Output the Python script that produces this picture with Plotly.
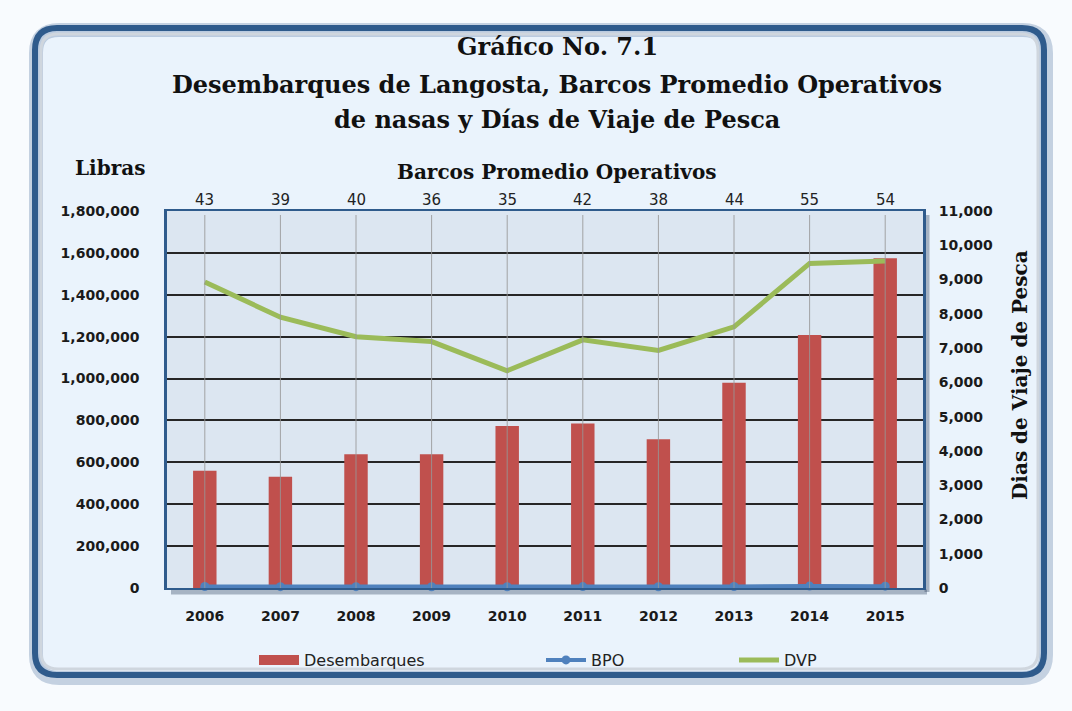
import plotly.graph_objects as go

# ---------------- data ----------------
years = ['2006', '2007', '2008', '2009', '2010', '2011', '2012', '2013', '2014', '2015']
desembarques = [560000, 531000, 638000, 638000, 773000, 786000, 710000, 980000, 1208000, 1574000]
bpo = [43, 39, 40, 36, 35, 42, 38, 44, 55, 54]
dvp = [8930, 7900, 7330, 7190, 6340, 7240, 6930, 7620, 9470, 9540]

left_ticks = [0, 200000, 400000, 600000, 800000, 1000000, 1200000, 1400000, 1600000, 1800000]
right_ticks = list(range(0, 11001, 1000))

# ---------------- layout geometry (pixels) ----------------
W, H = 1072, 711
PL, PR, PT, PB = 167, 923, 211, 588  # plot area edges


def xp(px):
    return (px - PL) / (PR - PL)


def yp(py):
    return (PB - py) / (PB - PT)


def rrect(x0, y0, x1, y1, r, ccw=False):
    if not ccw:
        s = (f"M{xp(x0 + r)},{yp(y0)} L{xp(x1 - r)},{yp(y0)} Q{xp(x1)},{yp(y0)} {xp(x1)},{yp(y0 + r)} "
             f"L{xp(x1)},{yp(y1 - r)} Q{xp(x1)},{yp(y1)} {xp(x1 - r)},{yp(y1)} "
             f"L{xp(x0 + r)},{yp(y1)} Q{xp(x0)},{yp(y1)} {xp(x0)},{yp(y1 - r)} "
             f"L{xp(x0)},{yp(y0 + r)} Q{xp(x0)},{yp(y0)} {xp(x0 + r)},{yp(y0)} Z")
    else:
        s = (f"M{xp(x0 + r)},{yp(y0)} Q{xp(x0)},{yp(y0)} {xp(x0)},{yp(y0 + r)} "
             f"L{xp(x0)},{yp(y1 - r)} Q{xp(x0)},{yp(y1)} {xp(x0 + r)},{yp(y1)} "
             f"L{xp(x1 - r)},{yp(y1)} Q{xp(x1)},{yp(y1)} {xp(x1)},{yp(y1 - r)} "
             f"L{xp(x1)},{yp(y0 + r)} Q{xp(x1)},{yp(y0)} {xp(x1 - r)},{yp(y0)} Z")
    return s


RED = '#C0504D'
BLUE = '#4F81BD'
GREEN = '#9BBB59'
TICKFONT = dict(family='DejaVu Sans', size=14, color='#1a1a1a', weight='bold')
SERIF = 'DejaVu Serif'

fig = go.Figure()

fig.add_trace(go.Bar(
    x=years, y=desembarques, name='Desembarques', marker=dict(color=RED, line=dict(width=0)),
    showlegend=False, yaxis='y'))
# legend swatch for the bars (wide rectangle as in the original)
fig.add_trace(go.Scatter(
    x=[years[0]], y=[None], mode='lines', name='Desembarques', line=dict(color=RED, width=10),
    legend='legend', showlegend=True, hoverinfo='skip'))
fig.add_trace(go.Scatter(
    x=years, y=dvp, name='DVP', mode='lines', line=dict(color=GREEN, width=5),
    yaxis='y2', legend='legend3'))
fig.add_trace(go.Scatter(
    x=years, y=bpo, name='BPO', mode='lines+markers', line=dict(color=BLUE, width=4),
    marker=dict(color=BLUE, size=9, symbol='circle'), yaxis='y2', legend='legend2',
    cliponaxis=False))

shapes = []
# white area outside the rounded frame
shapes.append(dict(type='path', xref='paper', yref='paper', layer='below',
                   path=(f"M{xp(-5)},{yp(-5)} L{xp(W + 5)},{yp(-5)} L{xp(W + 5)},{yp(H + 5)} "
                         f"L{xp(-5)},{yp(H + 5)} Z ") + rrect(35, 28, 1044, 675, 22, ccw=True),
                   fillcolor='#f8fbfe', line=dict(width=0)))
# frame glow / border / bevel
shapes.append(dict(type='path', xref='paper', yref='paper', layer='below',
                   path=rrect(36, 30, 1046, 678, 23), line=dict(color='rgba(60,100,150,0.28)', width=14)))
shapes.append(dict(type='path', xref='paper', yref='paper', layer='below',
                   path=rrect(35, 28, 1044, 675, 22), line=dict(color='#2f5b8c', width=6)))
shapes.append(dict(type='path', xref='paper', yref='paper', layer='below',
                   path=rrect(41, 34, 1038, 669, 17), line=dict(color='#cfd6de', width=3)))
# plot area drop shadow
shapes.append(dict(type='line', xref='paper', yref='paper', layer='below',
                   x0=xp(PL + 4), x1=xp(PR + 4), y0=yp(PB + 4), y1=yp(PB + 4),
                   line=dict(color='rgba(40,60,90,0.35)', width=5)))
shapes.append(dict(type='line', xref='paper', yref='paper', layer='below',
                   x0=xp(PR + 4), x1=xp(PR + 4), y0=yp(PT + 4), y1=yp(PB + 4),
                   line=dict(color='rgba(40,60,90,0.35)', width=5)))
# leader lines from the BPO labels (category index positions)
for i, yr in enumerate(years):
    shapes.append(dict(type='line', xref='x', yref='paper', x0=i, x1=i, y0=0, y1=yp(PT + 4),
                       layer='above', line=dict(color='rgba(150,150,150,0.85)', width=1)))

annotations = []
title_lines = ['Gráfico No. 7.1',
               'Desembarques de Langosta, Barcos Promedio Operativos',
               'de nasas y Días de Viaje de Pesca']
for txt, py in zip(title_lines, [47, 85, 120]):
    annotations.append(dict(text=txt, xref='paper', yref='paper', x=xp(557), y=yp(py),
                            xanchor='center', yanchor='middle', showarrow=False,
                            font=dict(family=SERIF, size=24, color='#111111', weight='bold')))
annotations.append(dict(text='Libras', xref='paper', yref='paper', x=xp(110), y=yp(168),
                        xanchor='center', yanchor='middle', showarrow=False,
                        font=dict(family=SERIF, size=20, color='#111111', weight='bold')))
annotations.append(dict(text='Barcos Promedio Operativos', xref='paper', yref='paper', x=xp(557), y=yp(172),
                        xanchor='center', yanchor='middle', showarrow=False,
                        font=dict(family=SERIF, size=20, color='#111111', weight='bold')))
annotations.append(dict(text='Dias de Viaje de Pesca', xref='paper', yref='paper', x=xp(1020), y=yp(375),
                        xanchor='center', yanchor='middle', showarrow=False, textangle=-90,
                        font=dict(family=SERIF, size=20, color='#111111', weight='bold')))
for i, v in enumerate(bpo):
    annotations.append(dict(text=str(v), xref='x', yref='paper', x=i, y=yp(200),
                            xanchor='center', yanchor='middle', showarrow=False,
                            font=dict(family='DejaVu Sans', size=15, color='#222222')))

legend_common = dict(orientation='h', yanchor='middle', xanchor='left', bgcolor='rgba(0,0,0,0)',
                     font=dict(family='DejaVu Sans', size=16, color='#222222'), itemwidth=40,
                     borderwidth=0)

fig.update_layout(
    width=W, height=H,
    margin=dict(l=PL, r=W - PR, t=PT, b=H - PB, autoexpand=False),
    paper_bgcolor='#eaf3fc',
    plot_bgcolor='#dce6f1',
    bargap=0.69,
    shapes=shapes,
    annotations=annotations,
    legend=dict(x=xp(254), y=yp(660), **legend_common),
    legend2=dict(x=xp(541), y=yp(660), **legend_common),
    legend3=dict(x=xp(734), y=yp(660), **legend_common),
    xaxis=dict(type='category', categoryorder='array', categoryarray=years,
               range=[-0.5, len(years) - 0.5], autorange=False,
               showgrid=False, showline=True, linecolor='#2f5b8c', linewidth=2, mirror=True,
               ticks='outside', ticklen=14, tickcolor='rgba(0,0,0,0)', tickfont=TICKFONT,
               zeroline=False),
    yaxis=dict(range=[0, 1800000], tickvals=left_ticks, tickformat=',', showgrid=True,
               gridcolor='#262626', gridwidth=1.5, showline=True, linecolor='#2f5b8c',
               linewidth=2.5, mirror=True, ticks='outside', ticklen=22,
               tickcolor='rgba(0,0,0,0)', tickfont=TICKFONT, zeroline=False),
    yaxis2=dict(range=[0, 11000], tickvals=right_ticks, tickformat=',', overlaying='y',
                side='right', showgrid=False, zeroline=False, showline=False,
                ticks='outside', ticklen=12, tickcolor='rgba(0,0,0,0)', tickfont=TICKFONT),
)

fig.write_html('out.html', config={'displayModeBar': False},
               post_script="document.body.style.margin='0';")
